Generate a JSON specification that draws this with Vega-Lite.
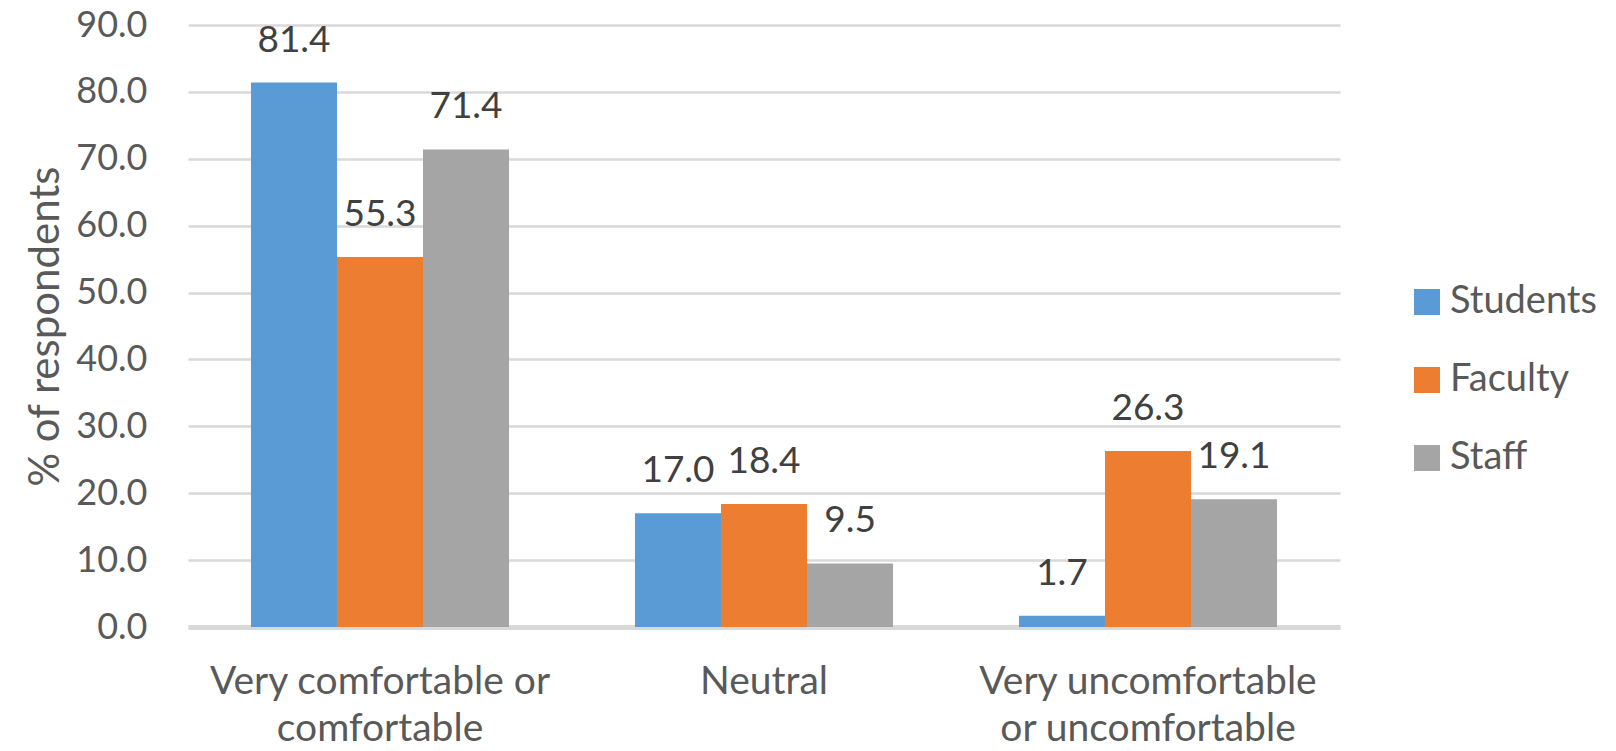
{
  "$schema": "https://vega.github.io/schema/vega-lite/v6.json",
  "autosize": "none",
  "width": 1152,
  "height": 602,
  "padding": {"left": 188, "top": 25, "right": 276, "bottom": 124},
  "background": "white",
  "config": {
    "font": "Lato",
    "view": {"stroke": null},
    "axis": {"labelFont": "Lato", "titleFont": "Lato", "labelColor": "#595959", "titleColor": "#595959"},
    "legend": {"labelFont": "Lato"}
  },
  "data": {
    "values": [
      {"response": "Very comfortable or|comfortable", "group": "Students", "pct": 81.4},
      {"response": "Very comfortable or|comfortable", "group": "Faculty", "pct": 55.3},
      {"response": "Very comfortable or|comfortable", "group": "Staff", "pct": 71.4},
      {"response": "Neutral", "group": "Students", "pct": 17.0},
      {"response": "Neutral", "group": "Faculty", "pct": 18.4},
      {"response": "Neutral", "group": "Staff", "pct": 9.5},
      {"response": "Very uncomfortable|or uncomfortable", "group": "Students", "pct": 1.7},
      {"response": "Very uncomfortable|or uncomfortable", "group": "Faculty", "pct": 26.3},
      {"response": "Very uncomfortable|or uncomfortable", "group": "Staff", "pct": 19.1}
    ]
  },
  "encoding": {
    "x": {
      "field": "response", "type": "nominal",
      "sort": ["Very comfortable or|comfortable", "Neutral", "Very uncomfortable|or uncomfortable"],
      "scale": {"paddingInner": 0.328, "paddingOuter": 0.164},
      "axis": {
        "title": null, "labelAngle": 0, "ticks": false, "labelLimit": 0,
        "labelExpr": "split(datum.label, '|')",
        "labelFontSize": 39, "labelLineHeight": 47, "labelPadding": 35,
        "domainColor": "#d9d9d9", "domainWidth": 5
      }
    },
    "xOffset": {
      "field": "group", "type": "nominal",
      "sort": ["Students", "Faculty", "Staff"],
      "scale": {"paddingInner": 0, "paddingOuter": 0}
    },
    "y": {
      "field": "pct", "type": "quantitative",
      "scale": {"domain": [0, 90], "nice": false},
      "axis": {
        "title": "% of respondents", "values": [0, 10, 20, 30, 40, 50, 60, 70, 80, 90],
        "format": ".1f", "labelFontSize": 36, "labelPadding": 41, "ticks": false, "domain": false,
        "gridColor": "#d9d9d9", "gridWidth": 2.5,
        "titleFontSize": 42, "titleFontWeight": "normal", "titleAngle": 270,
        "titleX": -143, "titleY": 301, "titleAlign": "center", "titleBaseline": "middle"
      }
    }
  },
  "layer": [
    {
      "mark": {"type": "bar"},
      "encoding": {
        "color": {
          "field": "group", "type": "nominal",
          "sort": ["Students", "Faculty", "Staff"],
          "scale": {"domain": ["Students", "Faculty", "Staff"], "range": ["#5b9bd5", "#ed7d31", "#a5a5a5"]},
          "legend": {
            "title": null, "orient": "none", "legendX": 1220, "legendY": 258,
            "symbolType": "square", "symbolSize": 676, "symbolStrokeWidth": 0, "symbolOpacity": 1,
            "labelFontSize": 38, "labelColor": "#595959", "labelOffset": 4, "rowPadding": 40, "labelLimit": 0
          }
        }
      }
    },
    {
      "mark": {"type": "text", "baseline": "alphabetic", "dy": -31, "fontSize": 37, "color": "#404040", "font": "Lato"},
      "encoding": {
        "text": {"field": "pct", "type": "quantitative", "format": ".1f"}
      }
    }
  ]
}
